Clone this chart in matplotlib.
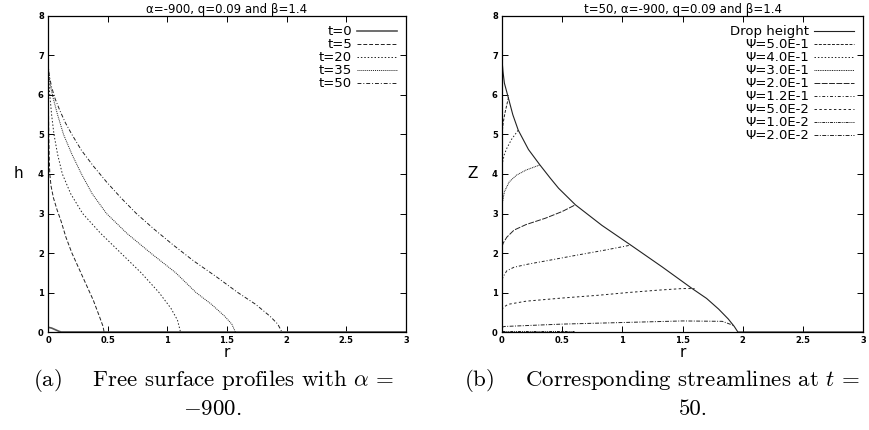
import numpy as np
import matplotlib
matplotlib.use("Agg")
import matplotlib.pyplot as plt

plt.rcParams["mathtext.fontset"] = "cm"
plt.rcParams["axes.unicode_minus"] = False

GP_FONT = "DejaVu Sans"

# free surface profiles h(r) at several times
t0_r = [0.0, 0.03, 0.06, 0.09, 0.11, 3.0]
t0_h = [0.12, 0.1, 0.06, 0.02, 0.0, 0.0]
t5_r = [0.0, 0.003, 0.006, 0.01, 0.015, 0.025, 0.045, 0.075, 0.11, 0.15, 0.2, 0.26, 0.32, 0.38, 0.43, 0.46, 0.47]
t5_h = [6.8, 6.0, 5.0, 4.4, 4.0, 3.7, 3.4, 3.1, 2.8, 2.4, 2.0, 1.6, 1.2, 0.8, 0.4, 0.15, 0.0]
t20_r = [0.0, 0.006, 0.015, 0.03, 0.05, 0.08, 0.12, 0.19, 0.29, 0.44, 0.61, 0.78, 0.93, 1.03, 1.085, 1.11]
t20_h = [6.8, 6.4, 6.0, 5.5, 5.0, 4.5, 4.0, 3.5, 3.0, 2.5, 2.0, 1.5, 1.0, 0.6, 0.3, 0.0]
t35_r = [0.0, 0.008, 0.022, 0.045, 0.08, 0.13, 0.2, 0.28, 0.37, 0.49, 0.66, 0.86, 1.07, 1.24, 1.37, 1.48, 1.54, 1.57]
t35_h = [6.8, 6.5, 6.2, 5.9, 5.5, 5.0, 4.5, 4.0, 3.5, 3.0, 2.5, 2.0, 1.5, 1.0, 0.7, 0.4, 0.2, 0.0]
t50_r = [0.0, 0.01, 0.03, 0.06, 0.1, 0.145, 0.2, 0.28, 0.38, 0.49, 0.61, 0.74, 0.89, 1.05, 1.22,
         1.41, 1.59, 1.74, 1.86, 1.925, 1.96]
t50_h = [6.8, 6.5, 6.2, 5.9, 5.6, 5.3, 5.0, 4.6, 4.2, 3.8, 3.4, 3.0, 2.6, 2.2, 1.8,
         1.4, 1.0, 0.7, 0.4, 0.2, 0.0]

# drop surface and streamlines at t=50
drop_r = [0.0, 0.008, 0.02, 0.05, 0.09, 0.135, 0.22, 0.315, 0.4, 0.47, 0.61, 0.83, 1.07, 1.33, 1.58,
          1.70, 1.80, 1.88, 1.93, 1.96, 3.0]
drop_z = [6.9, 6.6, 6.3, 5.96, 5.5, 5.11, 4.62, 4.23, 3.9, 3.64, 3.22, 2.7, 2.2, 1.65, 1.1,
          0.85, 0.58, 0.33, 0.14, 0.0, 0.0]
psi5e1_r = [0.0, 0.01, 0.025, 0.04, 0.055]
psi5e1_z = [5.0, 5.3, 5.55, 5.75, 5.95]
psi4e1_r = [0.0, 0.005, 0.02, 0.04, 0.08, 0.135]
psi4e1_z = [4.05, 4.3, 4.5, 4.65, 4.88, 5.11]
psi3e1_r = [0.0, 0.005, 0.02, 0.06, 0.12, 0.2, 0.315]
psi3e1_z = [3.1, 3.3, 3.55, 3.8, 3.97, 4.1, 4.23]
psi2e1_r = [0.0, 0.01, 0.04, 0.1, 0.2, 0.36, 0.5, 0.61]
psi2e1_z = [2.16, 2.25, 2.4, 2.58, 2.72, 2.88, 3.05, 3.22]
psi12e2_r = [0.0, 0.01, 0.04, 0.1, 0.22, 0.4, 0.63, 0.85, 1.07]
psi12e2_z = [1.32, 1.4, 1.55, 1.64, 1.72, 1.82, 1.95, 2.07, 2.2]
psi5e2_r = [0.0, 0.01, 0.05, 0.2, 0.5, 0.8, 1.05, 1.3, 1.5, 1.6]
psi5e2_z = [0.56, 0.62, 0.7, 0.78, 0.86, 0.93, 1.0, 1.06, 1.1, 1.1]
psi1e2_r = [0.0, 0.3, 0.6]
psi1e2_z = [0.03, 0.03, 0.03]
psi2e2_r = [0.0, 0.02, 0.5, 1.0, 1.5, 1.83, 1.93]
psi2e2_z = [0.12, 0.14, 0.2, 0.24, 0.28, 0.27, 0.16]

x_ticks = [0, 0.5, 1, 1.5, 2, 2.5, 3]
x_ticklabels = ["0", "0.5", "1", "1.5", "2", "2.5", "3"]
y_ticks = [0, 1, 2, 3, 4, 5, 6, 7, 8]


def gp_axes(ax, title, ylabel):
    ax.set_xlim(0, 3)
    ax.set_ylim(0, 8)
    ax.set_xticks(x_ticks)
    ax.set_xticklabels(x_ticklabels)
    ax.set_yticks(y_ticks)
    ax.tick_params(direction="in", top=True, right=True, length=4, width=0.7,
                   labelsize=6, pad=3)
    for lab in ax.get_xticklabels() + ax.get_yticklabels():
        lab.set_fontweight("bold")
        lab.set_family(GP_FONT)
    for sp in ax.spines.values():
        sp.set_linewidth(0.9)
    ax.set_title(title, fontsize=8.5, family=GP_FONT, pad=2)
    ax.set_xlabel("r", fontsize=11, family=GP_FONT, labelpad=0)
    ax.set_ylabel(ylabel, fontsize=11, family=GP_FONT, rotation=0, labelpad=14, va="center")


def gp_legend(ax):
    leg = ax.legend(loc="upper right", frameon=False, markerfirst=False,
                    handlelength=3.0, labelspacing=0.0, handletextpad=0.4,
                    borderaxespad=0.3, prop={"family": GP_FONT, "size": 9.5})
    for t in leg.get_texts():
        t.set_ha("right")
    leg._legend_box.align = "right"
    return leg


fig = plt.figure(figsize=(8.7, 4.3), dpi=100)
ax1 = fig.add_axes([0.0552, 0.2279, 0.4115, 0.7349])
ax2 = fig.add_axes([0.577, 0.2279, 0.415, 0.7349])

lw = 0.7
c = "#222222"
ax1.plot(t0_r, t0_h, color="#555555", lw=1.2, ls="-", label="t=0")
ax1.plot(t5_r, t5_h, color=c, lw=lw, ls=(0, (4, 2)), label="t=5")
ax1.plot(t20_r, t20_h, color=c, lw=lw, ls=(0, (1.5, 2)), label="t=20")
ax1.plot(t35_r, t35_h, color=c, lw=lw, ls=(0, (1, 1)), label="t=35")
ax1.plot(t50_r, t50_h, color=c, lw=lw, ls=(0, (4, 2, 1, 2)), label="t=50")
gp_axes(ax1, r"α=-900, q=0.09 and β=1.4", "h")
gp_legend(ax1)

ax2.plot(drop_r, drop_z, color=c, lw=0.8, ls="-", label="Drop height")
ax2.plot(psi5e1_r, psi5e1_z, color=c, lw=lw, ls=(0, (3, 1.5)), label="Ψ=5.0E-1")
ax2.plot(psi4e1_r, psi4e1_z, color=c, lw=lw, ls=(0, (1.5, 2)), label="Ψ=4.0E-1")
ax2.plot(psi3e1_r, psi3e1_z, color=c, lw=lw, ls=(0, (1, 0.8)), label="Ψ=3.0E-1")
ax2.plot(psi2e1_r, psi2e1_z, color=c, lw=lw, ls=(0, (6, 1.5)), label="Ψ=2.0E-1")
ax2.plot(psi12e2_r, psi12e2_z, color=c, lw=lw, ls=(0, (3, 2, 1, 2)), label="Ψ=1.2E-1")
ax2.plot(psi5e2_r, psi5e2_z, color=c, lw=lw, ls=(0, (2.5, 2.5)), label="Ψ=5.0E-2")
ax2.plot(psi1e2_r, psi1e2_z, color=c, lw=lw, ls=(0, (3, 1, 1, 1, 1, 1)), label="Ψ=1.0E-2")
ax2.plot(psi2e2_r, psi2e2_z, color=c, lw=lw, ls=(0, (4, 1.5, 1, 1.5)), label="Ψ=2.0E-2")
gp_axes(ax2, r"t=50, α=-900, q=0.09 and β=1.4", "Z")
gp_legend(ax2)

cap = dict(fontsize=16.5, family="cmr10", ha="center", va="center")
fig.text(214 / 870, 1 - 381 / 430, r"(a)    Free surface profiles with $\alpha$ =", **cap)
fig.text(212 / 870, 1 - 409 / 430, r"$-$900.", **cap)
fig.text(464 / 870, 1 - 381 / 430, r"(b)    Corresponding streamlines at $t$ =",
         fontsize=16.5, family="cmr10", ha="left", va="center")
fig.text(693 / 870, 1 - 409 / 430, "50.", **cap)

fig.savefig("out.png", dpi=100)
